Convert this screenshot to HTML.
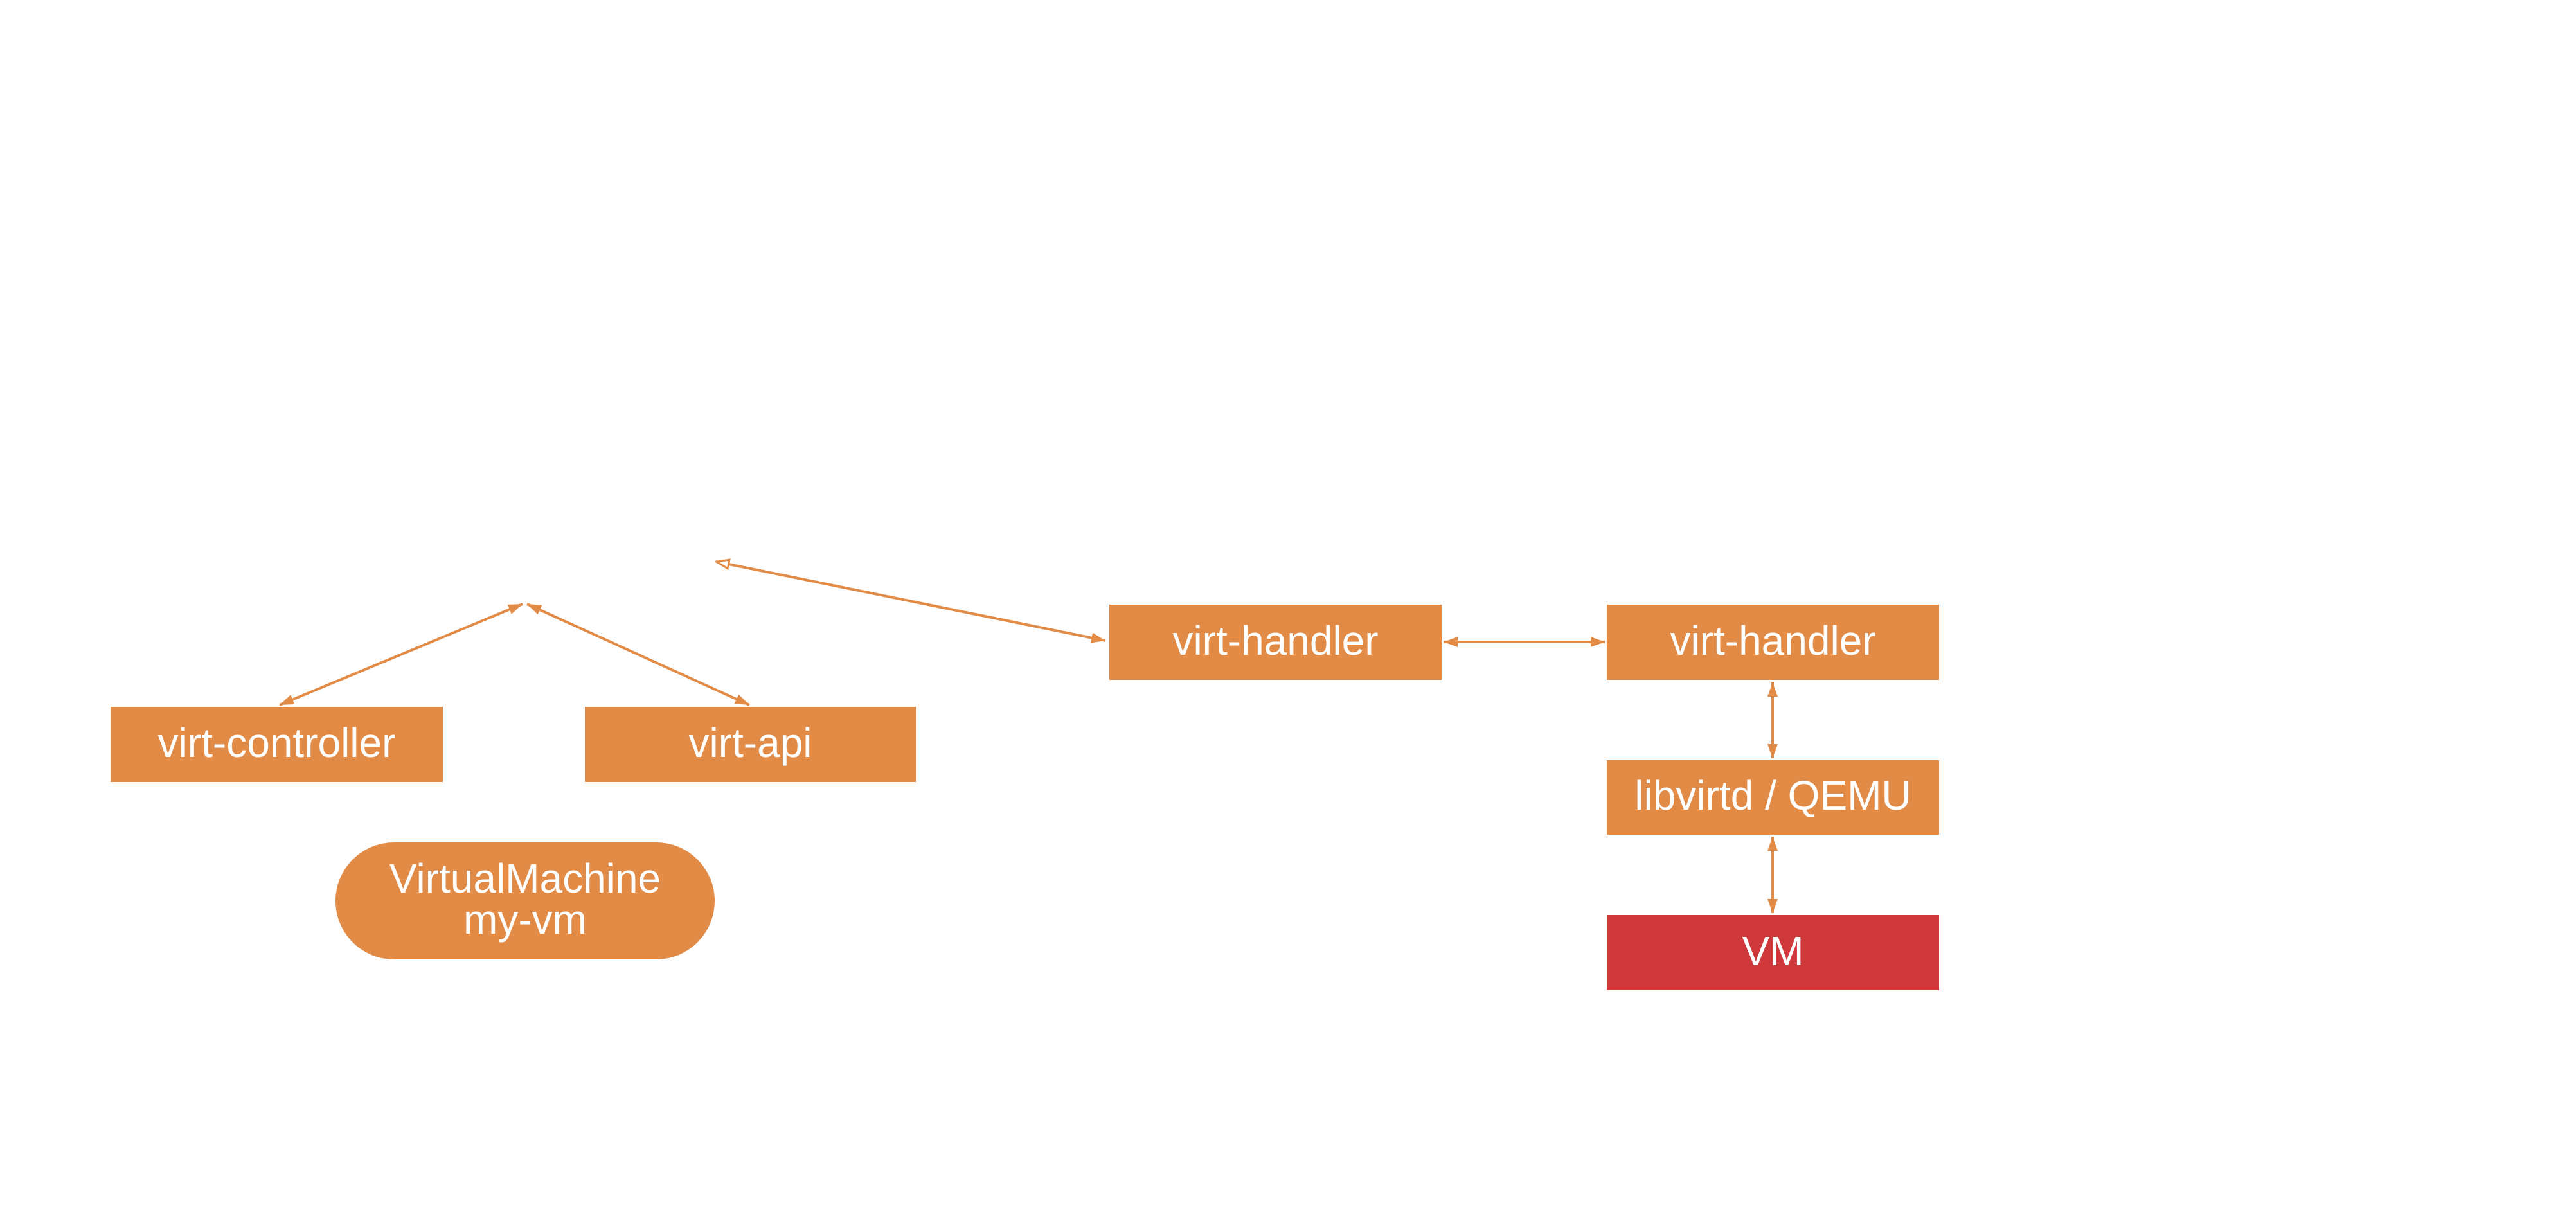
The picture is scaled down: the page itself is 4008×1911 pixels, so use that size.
<!DOCTYPE html>
<html><head><meta charset="utf-8"><style>
html,body{margin:0;padding:0;background:#fff;}
body{width:4008px;height:1911px;position:relative;overflow:hidden;font-family:"Liberation Sans",sans-serif;}
.b{position:absolute;background:#E28B47;color:#fff;display:flex;align-items:center;justify-content:center;font-size:64px;text-align:center;line-height:1.0;padding-bottom:6px;box-sizing:border-box;}
</style></head><body>
<svg width="4008" height="1911" style="position:absolute;left:0;top:0">
<defs>
<marker id="m" markerWidth="24" markerHeight="24" refX="22" refY="12" orient="auto-start-reverse" markerUnits="userSpaceOnUse" viewBox="0 0 24 24"><path d="M0,4 L22,12 L0,20 z" fill="#E28B47"/></marker>
<marker id="o" markerWidth="24" markerHeight="24" refX="22" refY="12" orient="auto" markerUnits="userSpaceOnUse" viewBox="0 0 24 24"><path d="M2,5 L21,12 L2,19 z" fill="#fff" stroke="#E28B47" stroke-width="3"/></marker>
</defs>
<g stroke="#E28B47" stroke-width="4" fill="none">
<line x1="435" y1="1097" x2="813" y2="940" marker-start="url(#m)" marker-end="url(#m)"/>
<line x1="1166" y1="1097" x2="820" y2="940" marker-start="url(#m)" marker-end="url(#m)"/>
<line x1="1720" y1="997" x2="1114" y2="874" marker-start="url(#m)" marker-end="url(#o)"/>
<line x1="2246" y1="999" x2="2497" y2="999" marker-start="url(#m)" marker-end="url(#m)"/>
<line x1="2758" y1="1062" x2="2758" y2="1180" marker-start="url(#m)" marker-end="url(#m)"/>
<line x1="2758" y1="1302" x2="2758" y2="1421" marker-start="url(#m)" marker-end="url(#m)"/>
</g>
</svg>
<div class="b" style="left:172px;top:1100px;width:517px;height:117px">virt-controller</div>
<div class="b" style="left:910px;top:1100px;width:515px;height:117px">virt-api</div>
<div class="b" style="left:522px;top:1311px;width:590px;height:182px;border-radius:91px">VirtualMachine<br>my-vm</div>
<div class="b" style="left:1726px;top:941px;width:517px;height:117px">virt-handler</div>
<div class="b" style="left:2500px;top:941px;width:517px;height:117px">virt-handler</div>
<div class="b" style="left:2500px;top:1183px;width:517px;height:116px">libvirtd / QEMU</div>
<div class="b" style="left:2500px;top:1424px;width:517px;height:117px;background:#D0393B">VM</div>
</body></html>
